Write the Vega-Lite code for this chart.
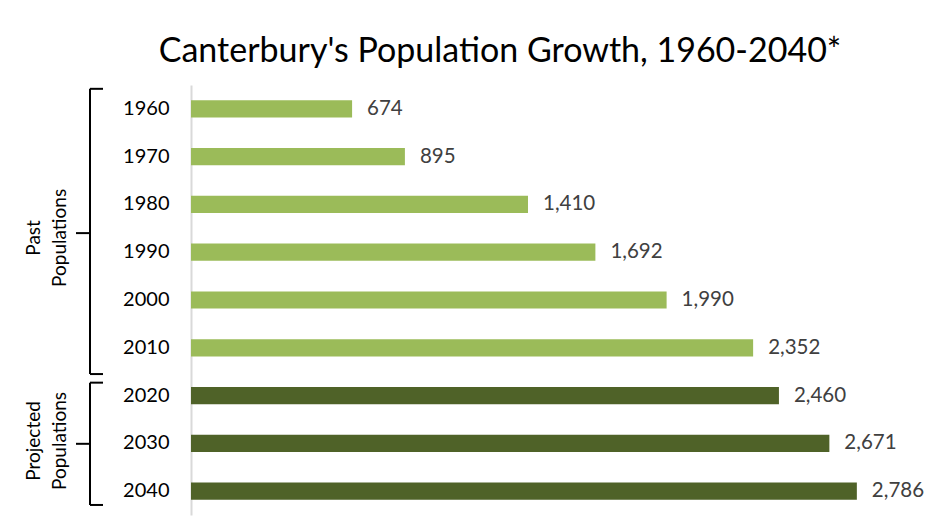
{
  "$schema": "https://vega.github.io/schema/vega-lite/v6.json",
  "padding": {"left": 22, "top": 35, "right": 15, "bottom": 12},
  "background": "white",
  "title": {
    "text": "Canterbury's Population Growth, 1960-2040*",
    "font": "Lato",
    "fontSize": 34,
    "fontWeight": "normal",
    "color": "#000000",
    "anchor": "middle",
    "offset": 16,
    "dx": 27
  },
  "config": {
    "view": {"stroke": null},
    "font": "Lato"
  },
  "spacing": 0,
  "hconcat": [
    {
      "width": 100,
      "height": 430,
      "data": {
        "values": [
          {"group": "Past Populations", "top": 0.08, "bottom": 6.05, "mid": 3.1, "labelMid": 3.2},
          {"group": "Projected Populations", "top": 6.23, "bottom": 8.79, "mid": 7.51, "labelMid": 7.45}
        ]
      },
      "layer": [
        {
          "mark": {"type": "rule", "color": "#000000", "strokeWidth": 2},
          "encoding": {
            "x": {"datum": 68, "type": "quantitative", "scale": {"domain": [0, 100]}, "axis": null},
            "y": {"field": "top", "type": "quantitative", "scale": {"domain": [0, 9], "reverse": true}, "axis": null},
            "y2": {"field": "bottom"}
          }
        },
        {
          "mark": {"type": "rule", "color": "#000000", "strokeWidth": 2},
          "encoding": {
            "x": {"datum": 68, "type": "quantitative"},
            "x2": {"datum": 81},
            "y": {"field": "top", "type": "quantitative"}
          }
        },
        {
          "mark": {"type": "rule", "color": "#000000", "strokeWidth": 2},
          "encoding": {
            "x": {"datum": 68, "type": "quantitative"},
            "x2": {"datum": 81},
            "y": {"field": "bottom", "type": "quantitative"}
          }
        },
        {
          "mark": {"type": "rule", "color": "#000000", "strokeWidth": 2},
          "encoding": {
            "x": {"datum": 54, "type": "quantitative"},
            "x2": {"datum": 68},
            "y": {"field": "mid", "type": "quantitative"}
          }
        },
        {
          "mark": {"type": "text", "angle": 270, "align": "center", "baseline": "middle", "font": "Lato", "fontSize": 19, "color": "#000000", "lineBreak": " ", "lineHeight": 26},
          "encoding": {
            "x": {"datum": 12, "type": "quantitative"},
            "y": {"field": "labelMid", "type": "quantitative"},
            "text": {"field": "group"}
          }
        }
      ]
    },
    {
      "width": 717,
      "height": 430,
      "data": {
        "values": [
          {"year": "1960", "population": 674, "type": "Past"},
          {"year": "1970", "population": 895, "type": "Past"},
          {"year": "1980", "population": 1410, "type": "Past"},
          {"year": "1990", "population": 1692, "type": "Past"},
          {"year": "2000", "population": 1990, "type": "Past"},
          {"year": "2010", "population": 2352, "type": "Past"},
          {"year": "2020", "population": 2460, "type": "Projected"},
          {"year": "2030", "population": 2671, "type": "Projected"},
          {"year": "2040", "population": 2786, "type": "Projected"}
        ]
      },
      "encoding": {
        "y": {
          "field": "year",
          "type": "ordinal",
          "scale": {"paddingInner": 0.64, "paddingOuter": 0.32},
          "axis": {
            "title": null,
            "ticks": false,
            "labelFont": "Lato",
            "labelFontSize": 20,
            "labelColor": "#000000",
            "labelPadding": 22,
            "domainColor": "#d9d9d9",
            "domainWidth": 2
          }
        },
        "x": {
          "field": "population",
          "type": "quantitative",
          "scale": {"domain": [0, 3000]},
          "axis": null
        }
      },
      "layer": [
        {
          "mark": {"type": "bar"},
          "encoding": {
            "color": {
              "field": "type",
              "type": "nominal",
              "scale": {"domain": ["Past", "Projected"], "range": ["#9bbb59", "#4f6228"]},
              "legend": null
            }
          }
        },
        {
          "mark": {"type": "text", "align": "left", "baseline": "middle", "dx": 15, "font": "Lato", "fontSize": 20.5, "color": "#404040"},
          "encoding": {
            "text": {"field": "population", "type": "quantitative", "format": ","}
          }
        }
      ]
    }
  ]
}
